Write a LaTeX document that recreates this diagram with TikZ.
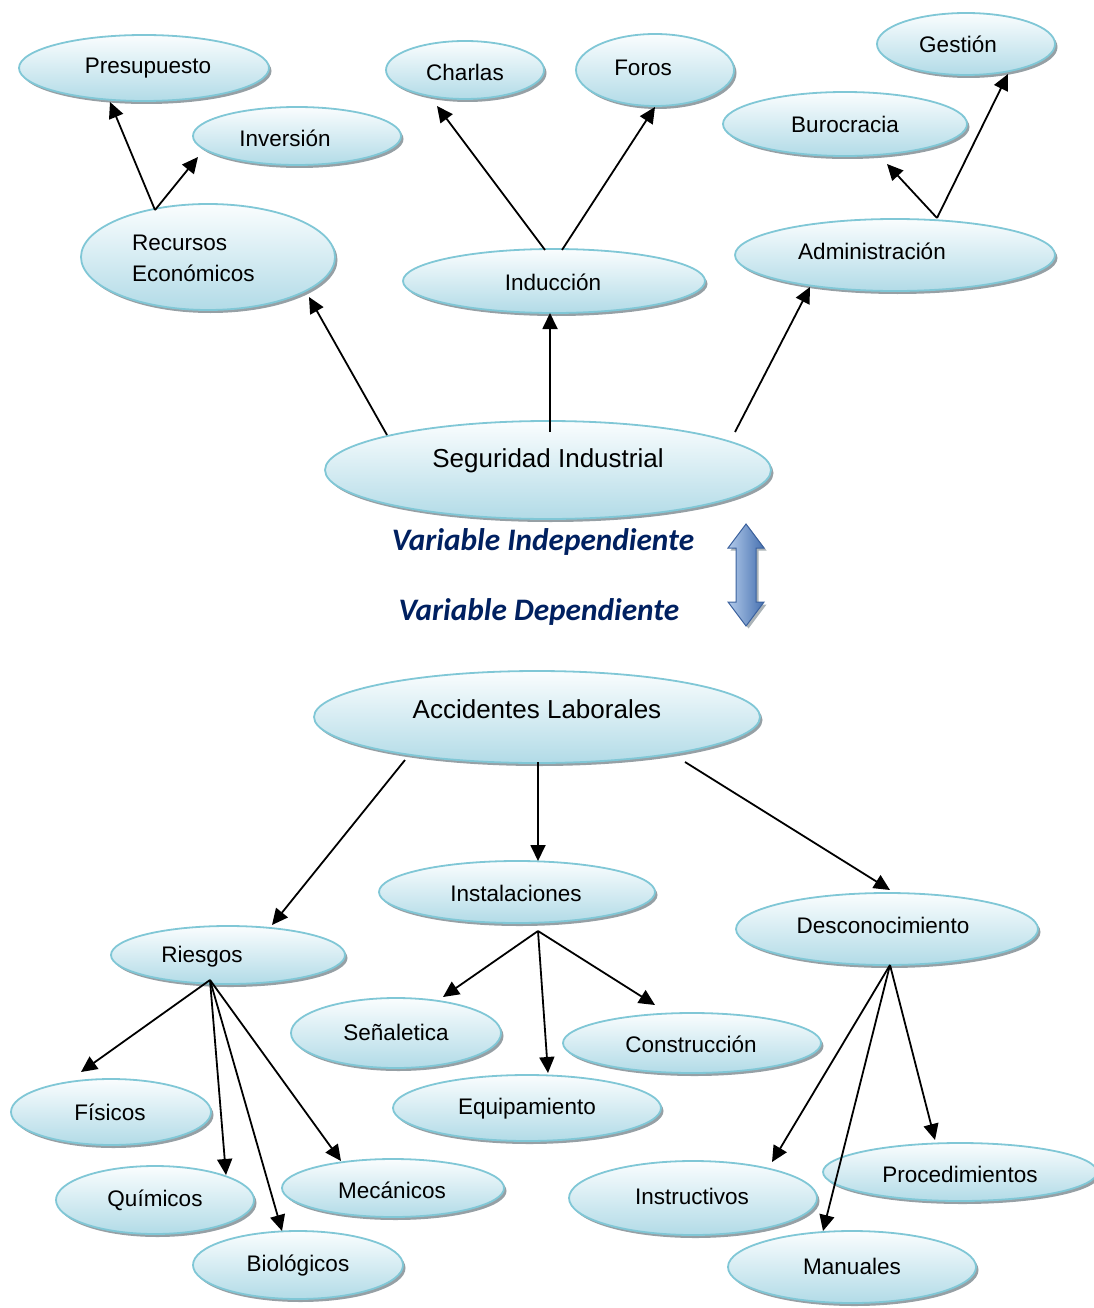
\documentclass[tikz,border=0pt]{standalone}
\usepackage{fontspec}
\setmainfont{Liberation Sans}
\newfontfamily\varfont{Carlito}
\usetikzlibrary{arrows.meta,shadows,shapes.geometric,calc}
\definecolor{ellTop}{RGB}{250,253,254}
\definecolor{ellBot}{RGB}{178,219,231}
\definecolor{ellEdge}{RGB}{128,199,214}
\definecolor{ellShade}{RGB}{150,160,165}
\definecolor{varBlue}{RGB}{0,32,96}
\definecolor{arrLight}{RGB}{178,202,234}
\definecolor{arrDark}{RGB}{70,112,176}
\definecolor{arrEdge}{RGB}{60,98,158}

\begin{document}
\begin{tikzpicture}[x=1pt,y=-1pt,
  ell/.style={ellipse, inner sep=0pt, draw=ellEdge, line width=1.8pt,
    top color=ellTop, bottom color=ellBot,
    general shadow={fill=ellShade, shadow xshift=2.5pt, shadow yshift=-3pt}},
  lbl/.style={font=\fontsize{22.5}{31}\selectfont, inner sep=0pt, yshift=-2.5pt},
  big/.style={font=\fontsize{26}{31}\selectfont, inner sep=0pt, yshift=-2.5pt},
  var/.style={font=\varfont\bfseries\itshape\fontsize{31.3}{36}\selectfont,
    text=varBlue, inner sep=0pt, yshift=-2pt},
  link/.style={line width=1.8pt, -{Triangle[length=16pt,width=15pt]}}
]
\useasboundingbox (0,0) rectangle (1093,1308);

% ---- independent variable tree ----
\node[ell, minimum width=250, minimum height=66] (pres) at (144,68) {};
\node[ell, minimum width=208, minimum height=58] (inv)  at (297,136) {};
\node[ell, minimum width=254, minimum height=106] (rec) at (208,257) {};
\node[ell, minimum width=158, minimum height=58] (cha)  at (465,70) {};
\node[ell, minimum width=158, minimum height=72] (for)  at (655,70) {};
\node[ell, minimum width=178, minimum height=62] (ges)  at (966,44) {};
\node[ell, minimum width=244, minimum height=64] (bur)  at (845,124) {};
\node[ell, minimum width=302, minimum height=64] (ind)  at (554,281) {};
\node[ell, minimum width=320, minimum height=72] (adm)  at (895,255) {};
\node[ell, minimum width=446, minimum height=98] (seg)  at (548,470) {};

\node[lbl] (presT) at (148,66) {Presupuesto};
\node[lbl] (invT)  at (285,136) {Inversión};
\node[lbl, align=left, anchor=west] (recT) at (132,256) {Recursos\\Económicos};
\node[lbl] (chaT)  at (465,70) {Charlas};
\node[lbl] (forT)  at (643,65) {Foros};
\node[lbl] (gesT)  at (958,42) {Gestión};
\node[lbl] (burT)  at (845,122) {Burocracia};
\node[lbl] (indT)  at (553,280) {Inducción};
\node[lbl] (admT)  at (872,249) {Administración};
\node[big] (segT)  at (548,458) {Seguridad Industrial};

% ---- variable captions and double arrow ----
\node[var] (vind) at (543,540) {Variable Independiente};
\node[var] (vdep) at (539,610) {Variable Dependiente};
\shade[left color=arrLight, right color=arrDark, draw=arrEdge, line width=1pt,
  general shadow={fill=ellShade!80, shadow xshift=2.5pt, shadow yshift=-2.5pt}]
  (746,524) -- (764,548) -- (756,548) -- (756,602) -- (764,602) -- (746,626)
  -- (728,602) -- (736,602) -- (736,548) -- (728,548) -- cycle;

% ---- dependent variable tree ----
\node[ell, minimum width=446, minimum height=92] (acc)  at (537,717) {};
\node[ell, minimum width=276, minimum height=62] (ins)  at (517,892) {};
\node[ell, minimum width=302, minimum height=72] (des)  at (887,929) {};
\node[ell, minimum width=234, minimum height=58] (rie)  at (228,955) {};
\node[ell, minimum width=210, minimum height=70] (sen)  at (396,1033) {};
\node[ell, minimum width=258, minimum height=60] (con)  at (692,1043) {};
\node[ell, minimum width=268, minimum height=66] (equ)  at (527,1108) {};
\node[ell, minimum width=200, minimum height=66] (fis)  at (111,1112) {};
\node[ell, minimum width=198, minimum height=68] (qui)  at (155,1200) {};
\node[ell, minimum width=222, minimum height=58] (mec)  at (393,1188) {};
\node[ell, minimum width=210, minimum height=68] (bio)  at (298,1265) {};
\node[ell, minimum width=248, minimum height=74] (inst) at (693,1198) {};
\node[ell, minimum width=274, minimum height=58] (proc) at (960,1172) {};
\node[ell, minimum width=248, minimum height=72] (man)  at (852,1267) {};

\node[big] (accT)  at (537,707) {Accidentes Laborales};
\node[lbl] (insT)  at (516,891) {Instalaciones};
\node[lbl] (desT)  at (883,923) {Desconocimiento};
\node[lbl] (rieT)  at (202,954) {Riesgos};
\node[lbl] (senT)  at (396,1030) {Señaletica};
\node[lbl] (conT)  at (691,1042) {Construcción};
\node[lbl] (equT)  at (527,1106) {Equipamiento};
\node[lbl] (fisT)  at (110,1110) {Físicos};
\node[lbl] (quiT)  at (155,1198) {Químicos};
\node[lbl] (mecT)  at (392,1188) {Mecánicos};
\node[lbl] (bioT)  at (298,1263) {Biológicos};
\node[lbl] (instT) at (692,1194) {Instructivos};
\node[lbl] (procT) at (960,1172) {Procedimientos};
\node[lbl] (manT)  at (852,1264) {Manuales};

% ---- connectors ----
\draw[link] ($(rec)+(-53,-47)$) -- ($(pres)+(-34,34)$);
\draw[link] ($(rec)+(-53,-47)$) -- ($(inv)+(-99,21)$);
\draw[link] ($(ind)+(-9,-31)$)  -- ($(cha)+(-28,36)$);
\draw[link] ($(ind)+(8,-31)$)   -- ($(for)+(0,37)$);
\draw[link] ($(adm)+(42,-37)$)  -- ($(bur)+(42,40)$);
\draw[link] ($(adm)+(42,-37)$)  -- ($(ges)+(42,30)$);
\draw[link] ($(seg)+(-161,-35)$) -- ($(rec)+(101,40)$);
\draw[link] ($(seg)+(2,-38)$)   -- ($(ind)+(-4,32)$);
\draw[link] ($(seg)+(187,-38)$) -- ($(adm)+(-85,32)$);

\draw[link] ($(acc)+(-132,43)$) -- ($(rie)+(44,-30)$);
\draw[link] ($(acc)+(1,45)$)    -- ($(ins)+(21,-31)$);
\draw[link] ($(acc)+(148,45)$)  -- ($(des)+(3,-39)$);
\draw[link] ($(ins)+(21,39)$)   -- ($(sen)+(47,-36)$);
\draw[link] ($(ins)+(21,39)$)   -- ($(equ)+(21,-35)$);
\draw[link] ($(ins)+(21,39)$)   -- ($(con)+(-37,-38)$);
\draw[link] ($(rie)+(-18,25)$)  -- ($(fis)+(-30,-40)$);
\draw[link] ($(rie)+(-18,25)$)  -- ($(qui)+(71,-25)$);
\draw[link] ($(rie)+(-18,25)$)  -- ($(bio)+(-16,-34)$);
\draw[link] ($(rie)+(-18,25)$)  -- ($(mec)+(-52,-27)$);
\draw[link] ($(des)+(3,36)$)    -- ($(inst)+(79,-36)$);
\draw[link] ($(des)+(3,36)$)    -- ($(man)+(-29,-36)$);
\draw[link] ($(des)+(3,36)$)    -- ($(proc)+(-25,-32)$);
\end{tikzpicture}
\end{document}
